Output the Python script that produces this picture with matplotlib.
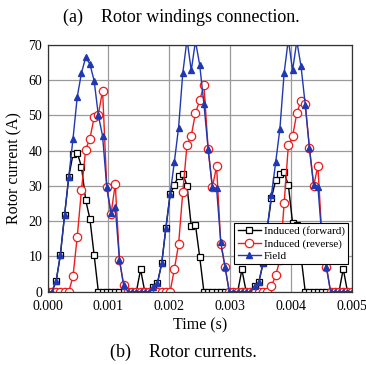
import numpy as np
import matplotlib
matplotlib.use('Agg')
from matplotlib import pyplot as plt

# sample times (s), 73 samples over 0..0.005
dt = 0.005 / 72
time_s = [i * dt for i in range(73)]

induced_forward = [0, 0, 3.0, 10.4, 21.7, 32.6, 39.0, 39.4, 35.4, 26.0,
                   20.6, 10.4, 0, 0, 0, 0, 0, 0, 0, 0,
                   0, 0, 6.3, 0, 0, 1.4, 2.5, 8.0, 18.1, 27.6,
                   30.3, 32.8, 33.5, 30.0, 18.6, 18.9, 9.9, 0, 0, 0,
                   0, 0, 0, 0, 0, 0, 6.3, 0, 0, 1.6,
                   2.7, 8.0, 18.0, 26.6, 31.6, 33.3, 33.8, 30.2, 19.5, 19.0,
                   10.0, 0, 0, 0, 0, 0, 0, 0, 0, 0,
                   6.5, 0, 0]

induced_reverse = [0, 0, 0, 0, 0, 0, 4.4, 15.6, 28.8, 40.3,
                   43.4, 49.4, 50.2, 57.0, 29.6, 22.0, 30.5, 9.0, 1.8, 0,
                   0, 0, 0, 0, 0, 0, 0, 0, 0, 0,
                   6.4, 13.4, 28.3, 41.6, 44.2, 50.6, 54.2, 58.6, 40.4, 29.6,
                   35.5, 13.5, 7.1, 0, 0, 0, 0, 0, 0, 0,
                   0, 0, 0, 1.5, 4.7, 9.0, 25.0, 41.5, 44.0, 50.6,
                   54.1, 53.3, 40.6, 30.0, 35.7, 14.0, 7.1, 0, 0, 0,
                   0, 0, 0]

field = [0, 0, 3.0, 10.4, 21.7, 32.6, 43.4, 55.2, 62.0, 66.4,
         64.5, 59.8, 50.0, 44.1, 29.6, 22.2, 24.0, 9.0, 1.8, 0,
         0, 0, 0, 0, 0, 1.4, 2.5, 8.0, 18.1, 27.6,
         36.8, 46.5, 62.0, 71.5, 62.7, 71.0, 64.3, 53.2, 40.5, 29.7,
         29.3, 14.0, 7.1, 0, 0, 0, 0, 0, 0, 1.6,
         2.7, 8.0, 18.0, 27.5, 36.7, 46.2, 62.0, 71.5, 62.7, 71.0,
         63.9, 53.0, 40.6, 30.2, 29.8, 14.5, 7.1, 0, 0, 0,
         0, 0, 0]

plt.rcParams['font.family'] = ['Liberation Serif', 'DejaVu Serif']

fig = plt.figure(figsize=(3.66, 3.65), dpi=100)
ax = fig.add_axes([0.1303, 0.2008, 0.8306, 0.6767])

ax.plot(time_s, induced_forward, color='black', linewidth=1, marker='s',
        markersize=5, markerfacecolor='white', markeredgecolor='black',
        markeredgewidth=0.9, label='Induced (forward)')
ax.plot(time_s, induced_reverse, color='#ee1c1c', linewidth=1, marker='o',
        markersize=6, markerfacecolor='white', markeredgecolor='#ee1c1c',
        markeredgewidth=0.9, label='Induced (reverse)')
ax.plot(time_s, field, color='#2038b0', linewidth=1, marker='^',
        markersize=4.5, markerfacecolor='#2038b0', markeredgecolor='#2038b0',
        label='Field')

ax.set_xlim(0, 0.005)
ax.set_ylim(0, 70)
ax.set_xticks([0.000, 0.001, 0.002, 0.003, 0.004, 0.005])
ax.set_xticklabels(['0.000', '0.001', '0.002', '0.003', '0.004', '0.005'])
ax.set_yticks(range(0, 71, 10))
ax.tick_params(length=0, labelsize=10)
ax.tick_params(axis='x', pad=6)
ax.tick_params(axis='y', pad=4)
ax.grid(True, color='#9a9a9a', linewidth=0.9)
ax.set_axisbelow(True)
for s in ax.spines.values():
    s.set_color('#333333')
    s.set_linewidth(0.9)

ax.set_xlabel('Time (s)', fontsize=11.5, labelpad=3)
ax.set_ylabel('Rotor current (A)', fontsize=11.5, labelpad=4)

leg = ax.legend(loc='lower right', bbox_to_anchor=(0.988, 0.112),
                borderaxespad=0, fontsize=8, frameon=True, fancybox=False,
                framealpha=1, edgecolor='black', borderpad=0.3,
                handlelength=2.1, handletextpad=0.25, labelspacing=0.2)
leg.get_frame().set_linewidth(0.8)

fig.text(0.495, 0.953, '(a)    Rotor windings connection.', ha='center',
         va='center', fontsize=13)
fig.text(0.5, 0.036, '(b)    Rotor currents.', ha='center', va='center',
         fontsize=13)

fig.savefig('out.png', dpi=100)
